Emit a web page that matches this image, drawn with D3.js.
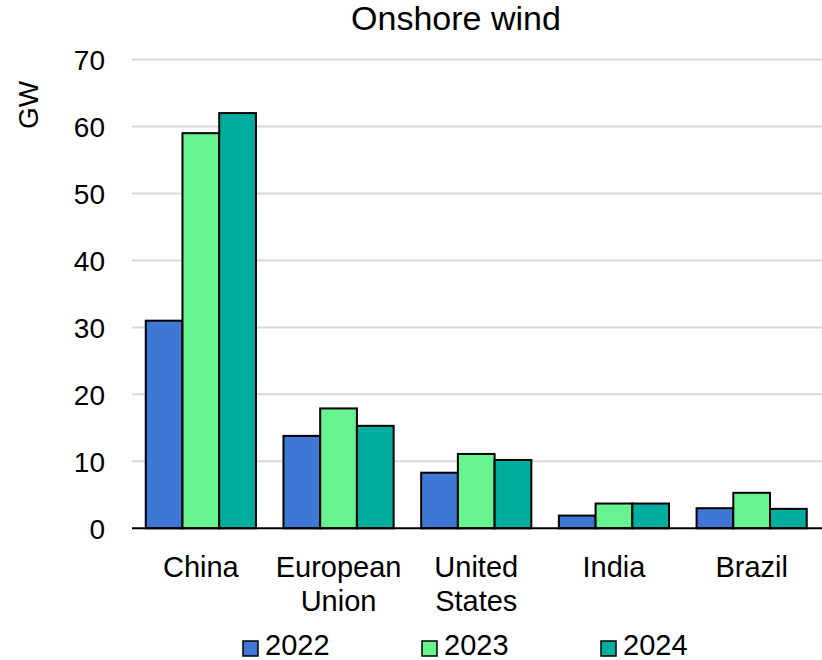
<!DOCTYPE html>
<html><head><meta charset="utf-8">
<script src="https://cdn.jsdelivr.net/npm/d3@7"></script>
<style>body{margin:0;background:#fff}svg{display:block}text{font-family:"Liberation Sans",Arial,sans-serif;fill:#000}</style>
</head><body>
<svg id="c" width="822" height="660"></svg>
<script>
const categories = [["China"],["European","Union"],["United","States"],["India"],["Brazil"]];
const seriesNames = ["2022","2023","2024"];
const v2022 = [31, 13.8, 8.3, 1.9, 3.0];
const v2023 = [59, 17.9, 11.1, 3.7, 5.3];
const v2024 = [62, 15.3, 10.2, 3.7, 2.9];
const yTicks = [0,10,20,30,40,50,60,70];
const colors = ["#3f78d4","#68f391","#00ad9e"];
const title = "Onshore wind";
const yLabel = "GW";

const series = [v2022, v2023, v2024];
const svg = d3.select("#c");
const x0 = d3.scaleBand().domain(d3.range(categories.length)).range([132, 820.5]).paddingInner(0.2).paddingOuter(0.1);
const x1 = d3.scaleBand().domain(d3.range(series.length)).range([0, x0.bandwidth()]);
const y = d3.scaleLinear().domain([0,70]).range([528.3, 59.5]);

// gridlines
svg.append("g").selectAll("line").data(yTicks.filter(t=>t>0)).join("line")
  .attr("x1",132).attr("x2",822).attr("y1",d=>y(d)).attr("y2",d=>y(d))
  .attr("stroke","#d9d9d9").attr("stroke-width",2);

// y axis labels
const yAxis = d3.axisLeft(y).tickValues(yTicks).tickSize(0).tickPadding(0);
const ya = svg.append("g").attr("transform","translate(105,0)").call(yAxis);
ya.select(".domain").remove();
ya.selectAll("text").attr("font-size",28).attr("font-family","Liberation Sans, Arial, sans-serif").attr("fill","#000").attr("dy","0.36em");

// bars
const g = svg.append("g");
categories.forEach((c,i)=>{
  series.forEach((s,j)=>{
    g.append("rect")
      .attr("x", x0(i)+x1(j))
      .attr("y", y(s[i]))
      .attr("width", x1.bandwidth())
      .attr("height", y(0)-y(s[i]))
      .attr("fill", colors[j]).attr("stroke","#000").attr("stroke-width",2);
  });
});

// baseline
svg.append("line").attr("x1",132).attr("x2",822).attr("y1",y(0)).attr("y2",y(0)).attr("stroke","#000").attr("stroke-width",2);

// category labels
categories.forEach((c,i)=>{
  const t = svg.append("text").attr("text-anchor","middle").attr("font-size",29)
    .attr("x", x0(i)+x0.bandwidth()/2).attr("y",577);
  c.forEach((line,k)=>{
    t.append("tspan").attr("x", x0(i)+x0.bandwidth()/2).attr("dy", k===0?0:34).text(line);
  });
});

// title
svg.append("text").attr("x",456).attr("y",30).attr("text-anchor","middle").attr("font-size",34).text(title);

// y label
svg.append("text").attr("transform","translate(38,105) rotate(-90)").attr("text-anchor","middle").attr("font-size",28).text(yLabel);

// legend
const legX = [243, 422, 601];
seriesNames.forEach((n,j)=>{
  svg.append("rect").attr("x",legX[j]).attr("y",641).attr("width",15).attr("height",15)
    .attr("fill",colors[j]).attr("stroke","#000").attr("stroke-width",1.5);
  svg.append("text").attr("x",legX[j]+22).attr("y",655).attr("font-size",29).text(n);
});
</script>
</body></html>
